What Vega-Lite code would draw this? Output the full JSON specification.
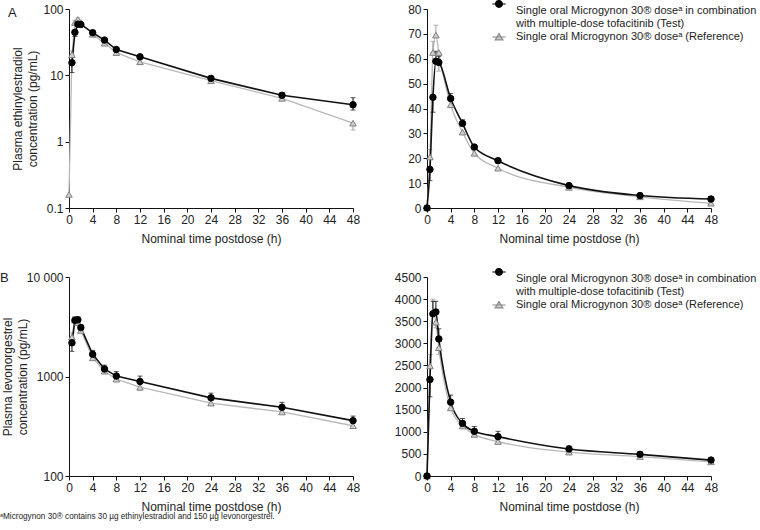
{
  "$schema": "https://vega.github.io/schema/vega-lite/v6.json",
  "background": "white",
  "padding": {"left": 0, "top": 3, "right": 0, "bottom": 0},
  "config": {
    "font": "Liberation Sans",
    "view": {"stroke": null},
    "axis": {"grid": false, "domainColor": "#111", "tickColor": "#111", "labelColor": "#222", "titleColor": "#222", "labelFontSize": 12, "titleFontSize": 12, "titleFontWeight": "normal", "tickSize": 4, "labelPadding": 2, "labelFlush": false, "labelOverlap": false, "domainWidth": 1, "tickWidth": 1, "titleLineHeight": 15},
    "legend": {"labelColor": "#222"}
  },
  "datasets": {
    "ee": [
      {"s": "Reference", "t": 0, "v": 0.16, "lo": null, "hi": null},
      {"s": "Reference", "t": 0.5, "v": 20.5, "lo": 20.5, "hi": 23.5},
      {"s": "Reference", "t": 1, "v": 62.5, "lo": 62.5, "hi": 67},
      {"s": "Reference", "t": 1.5, "v": 69.5, "lo": 69.5, "hi": 73.5},
      {"s": "Reference", "t": 2, "v": 62.5, "lo": 55, "hi": 62.5},
      {"s": "Reference", "t": 4, "v": 41.5, "lo": null, "hi": null},
      {"s": "Reference", "t": 6, "v": 30.5, "lo": null, "hi": null},
      {"s": "Reference", "t": 8, "v": 22, "lo": null, "hi": null},
      {"s": "Reference", "t": 12, "v": 16, "lo": null, "hi": null},
      {"s": "Reference", "t": 24, "v": 8.3, "lo": null, "hi": null},
      {"s": "Reference", "t": 36, "v": 4.5, "lo": null, "hi": null},
      {"s": "Reference", "t": 48, "v": 1.9, "lo": 1.5, "hi": 1.9},
      {"s": "Test", "t": 0, "v": 0, "lo": null, "hi": null},
      {"s": "Test", "t": 0.5, "v": 15.5, "lo": 11, "hi": 15.5},
      {"s": "Test", "t": 1, "v": 44.5, "lo": 38.5, "hi": 44.5},
      {"s": "Test", "t": 1.5, "v": 59, "lo": 59, "hi": 63},
      {"s": "Test", "t": 2, "v": 58.5, "lo": 58.5, "hi": 61},
      {"s": "Test", "t": 4, "v": 44, "lo": 44, "hi": 46},
      {"s": "Test", "t": 6, "v": 34, "lo": 34, "hi": 35.5},
      {"s": "Test", "t": 8, "v": 24.5, "lo": 24.5, "hi": 25.5},
      {"s": "Test", "t": 12, "v": 19, "lo": 19, "hi": 20},
      {"s": "Test", "t": 24, "v": 9, "lo": 9, "hi": 9.8},
      {"s": "Test", "t": 36, "v": 5, "lo": 5, "hi": 5.5},
      {"s": "Test", "t": 48, "v": 3.6, "lo": 3.0, "hi": 4.6}
    ],
    "lng": [
      {"s": "Reference", "t": 0, "v": 0, "lo": null, "hi": null},
      {"s": "Reference", "t": 0.5, "v": 2490, "lo": 2490, "hi": 2750},
      {"s": "Reference", "t": 1, "v": 3700, "lo": 3700, "hi": 4000},
      {"s": "Reference", "t": 1.5, "v": 3480, "lo": 3350, "hi": 3480},
      {"s": "Reference", "t": 2, "v": 2900, "lo": 2750, "hi": 2900},
      {"s": "Reference", "t": 4, "v": 1540, "lo": null, "hi": null},
      {"s": "Reference", "t": 6, "v": 1130, "lo": null, "hi": null},
      {"s": "Reference", "t": 8, "v": 940, "lo": null, "hi": null},
      {"s": "Reference", "t": 12, "v": 780, "lo": 730, "hi": 780},
      {"s": "Reference", "t": 24, "v": 540, "lo": null, "hi": null},
      {"s": "Reference", "t": 36, "v": 440, "lo": null, "hi": null},
      {"s": "Reference", "t": 48, "v": 320, "lo": null, "hi": null},
      {"s": "Test", "t": 0, "v": 0, "lo": null, "hi": null},
      {"s": "Test", "t": 0.5, "v": 2180, "lo": 1790, "hi": 2180},
      {"s": "Test", "t": 1, "v": 3670, "lo": 3670, "hi": 3950},
      {"s": "Test", "t": 1.5, "v": 3710, "lo": 3710, "hi": 3950},
      {"s": "Test", "t": 2, "v": 3100, "lo": 3100, "hi": 3330},
      {"s": "Test", "t": 4, "v": 1670, "lo": 1670, "hi": 1830},
      {"s": "Test", "t": 6, "v": 1190, "lo": 1190, "hi": 1300},
      {"s": "Test", "t": 8, "v": 1010, "lo": 1010, "hi": 1120},
      {"s": "Test", "t": 12, "v": 890, "lo": 890, "hi": 1010},
      {"s": "Test", "t": 24, "v": 610, "lo": 610, "hi": 680},
      {"s": "Test", "t": 36, "v": 490, "lo": 490, "hi": 550},
      {"s": "Test", "t": 48, "v": 360, "lo": 360, "hi": 400}
    ]
  },
  "title": {"text": "ᵃMicrogynon 30® contains 30 µg ethinylestradiol and 150 µg levonorgestrel.", "orient": "bottom", "anchor": "start", "fontSize": 8.2, "fontWeight": "normal", "color": "#222", "offset": 1},
  "resolve": {"scale": {"shape": "independent", "fill": "independent", "stroke": "independent"}, "legend": {"shape": "independent", "fill": "independent", "stroke": "independent"}},
  "spacing": 27,
  "vconcat": [
    {
      "spacing": 74,
      "bounds": "flush",
      "resolve": {"scale": {"shape": "independent", "fill": "independent", "stroke": "independent"}, "legend": {"shape": "independent", "fill": "independent", "stroke": "independent"}},
      "hconcat": [
        {
          "width": 284, "height": 199,
          "title": {"text": "A", "orient": "top", "anchor": "start", "frame": "group", "fontSize": 13, "fontWeight": "normal", "color": "#222", "offset": 0, "baseline": "top", "align": "left", "dx": -61, "dy": 17},
          "data": {"name": "ee"},
          "transform": [{"filter": "datum.v > 0"}],
          "encoding": {
            "x": {"field": "t", "type": "quantitative", "scale": {"domain": [0, 48], "nice": false}, "axis": {"values": [0, 4, 8, 12, 16, 20, 24, 28, 32, 36, 40, 44, 48], "tickCount": 13, "title": "Nominal time postdose (h)", "titlePadding": 8}}
          },
          "layer": [
            {"transform": [{"filter": "datum.s == 'Reference'"}], "mark": {"type": "line", "color": "#b8b8b8", "strokeWidth": 1.3},
             "encoding": {"y": {"field": "v", "type": "quantitative", "scale": {"type": "log", "domain": [0.1, 100]}, "axis": {"values": [0.1, 1, 10, 100], "tickCount": 4, "format": "~g", "title": ["Plasma ethinylestradiol", "concentration (pg/mL)"], "titlePadding": 3}}}},
            {"transform": [{"filter": "datum.s == 'Reference' && datum.hi != null"}], "mark": {"type": "rule", "color": "#999", "strokeWidth": 1}, "encoding": {"y": {"field": "lo", "type": "quantitative"}, "y2": {"field": "hi"}}},
            {"transform": [{"filter": "datum.s == 'Reference' && datum.hi != null"}], "mark": {"type": "tick", "orient": "horizontal", "color": "#999", "size": 5, "thickness": 1}, "encoding": {"y": {"field": "hi", "type": "quantitative"}}},
            {"transform": [{"filter": "datum.s == 'Reference' && datum.hi != null"}], "mark": {"type": "tick", "orient": "horizontal", "color": "#999", "size": 5, "thickness": 1}, "encoding": {"y": {"field": "lo", "type": "quantitative"}}},
            {"transform": [{"filter": "datum.s == 'Test'"}], "mark": {"type": "line", "color": "#111", "strokeWidth": 1.6}, "encoding": {"y": {"field": "v", "type": "quantitative"}}},
            {"transform": [{"filter": "datum.s == 'Test' && datum.hi != null"}], "mark": {"type": "rule", "color": "#111", "strokeWidth": 1}, "encoding": {"y": {"field": "lo", "type": "quantitative"}, "y2": {"field": "hi"}}},
            {"transform": [{"filter": "datum.s == 'Test' && datum.hi != null"}], "mark": {"type": "tick", "orient": "horizontal", "color": "#111", "size": 5, "thickness": 1}, "encoding": {"y": {"field": "hi", "type": "quantitative"}}},
            {"transform": [{"filter": "datum.s == 'Test' && datum.hi != null"}], "mark": {"type": "tick", "orient": "horizontal", "color": "#111", "size": 5, "thickness": 1}, "encoding": {"y": {"field": "lo", "type": "quantitative"}}},
            {"mark": {"type": "point", "filled": true, "opacity": 1, "strokeWidth": 1},
             "encoding": {
               "y": {"field": "v", "type": "quantitative"},
               "shape": {"field": "s", "type": "nominal", "scale": {"domain": ["Test", "Reference"], "range": ["circle", "triangle-up"]}, "legend": null},
               "fill": {"field": "s", "type": "nominal", "scale": {"domain": ["Test", "Reference"], "range": ["#000", "#cfcfcf"]}, "legend": null},
               "stroke": {"field": "s", "type": "nominal", "scale": {"domain": ["Test", "Reference"], "range": ["#000", "#808080"]}, "legend": null},
               "size": {"value": 42}
             }}
          ]
        },
        {
          "width": 284, "height": 199,
          "data": {"name": "ee"},
          "resolve": {"scale": {"shape": "independent", "fill": "independent", "stroke": "independent"}, "legend": {"shape": "independent", "fill": "independent", "stroke": "independent"}},
          "encoding": {
            "x": {"field": "t", "type": "quantitative", "scale": {"domain": [0, 48], "nice": false}, "axis": {"values": [0, 4, 8, 12, 16, 20, 24, 28, 32, 36, 40, 44, 48], "tickCount": 13, "title": "Nominal time postdose (h)", "titlePadding": 8}}
          },
          "layer": [
            {"transform": [{"filter": "datum.s == 'Reference'"}], "mark": {"type": "line", "color": "#b8b8b8", "strokeWidth": 1.3, "interpolate": "monotone"},
             "encoding": {"y": {"field": "v", "type": "quantitative", "scale": {"domain": [0, 80], "nice": false}, "axis": {"values": [0, 10, 20, 30, 40, 50, 60, 70, 80], "tickCount": 9, "labelOverlap": false, "title": null}}}},
            {"transform": [{"filter": "datum.s == 'Reference' && datum.hi != null"}], "mark": {"type": "rule", "color": "#999", "strokeWidth": 1}, "encoding": {"y": {"field": "lo", "type": "quantitative"}, "y2": {"field": "hi"}}},
            {"transform": [{"filter": "datum.s == 'Reference' && datum.hi != null"}], "mark": {"type": "tick", "orient": "horizontal", "color": "#999", "size": 5, "thickness": 1}, "encoding": {"y": {"field": "hi", "type": "quantitative"}}},
            {"transform": [{"filter": "datum.s == 'Reference' && datum.hi != null"}], "mark": {"type": "tick", "orient": "horizontal", "color": "#999", "size": 5, "thickness": 1}, "encoding": {"y": {"field": "lo", "type": "quantitative"}}},
            {"transform": [{"filter": "datum.s == 'Test'"}], "mark": {"type": "line", "color": "#111", "strokeWidth": 1.6, "interpolate": "monotone"}, "encoding": {"y": {"field": "v", "type": "quantitative"}}},
            {"transform": [{"filter": "datum.s == 'Test' && datum.hi != null"}], "mark": {"type": "rule", "color": "#111", "strokeWidth": 1}, "encoding": {"y": {"field": "lo", "type": "quantitative"}, "y2": {"field": "hi"}}},
            {"transform": [{"filter": "datum.s == 'Test' && datum.hi != null"}], "mark": {"type": "tick", "orient": "horizontal", "color": "#111", "size": 5, "thickness": 1}, "encoding": {"y": {"field": "hi", "type": "quantitative"}}},
            {"transform": [{"filter": "datum.s == 'Test' && datum.hi != null"}], "mark": {"type": "tick", "orient": "horizontal", "color": "#111", "size": 5, "thickness": 1}, "encoding": {"y": {"field": "lo", "type": "quantitative"}}},
            {"mark": {"type": "point", "filled": true, "opacity": 1, "strokeWidth": 1},
             "encoding": {
               "y": {"field": "v", "type": "quantitative"},
               "shape": {"field": "s", "type": "nominal", "scale": {"domain": ["Test", "Reference"], "range": ["circle", "triangle-up"]}, "legend": null},
               "fill": {"field": "s", "type": "nominal", "scale": {"domain": ["Test", "Reference"], "range": ["#000", "#cfcfcf"]}, "legend": null},
               "stroke": {"field": "s", "type": "nominal", "scale": {"domain": ["Test", "Reference"], "range": ["#000", "#808080"]}, "legend": null},
               "size": {"value": 42}
             }},
            {"transform": [{"filter": "false"}],
             "mark": {"type": "point", "filled": true, "opacity": 1, "strokeWidth": 1.2},
             "encoding": {
               "y": {"field": "v", "type": "quantitative"},
               "shape": {"field": "s", "type": "nominal", "scale": {"domain": ["Test", "Reference"], "range": ["M-0.95,-1L0.95,-1M-0.48,-1A0.48,0.48 0 1 1 0.48,-1A0.48,0.48 0 1 1 -0.48,-1Z", "M-0.95,0L0.95,0M0,-0.48L0.55,0.42L-0.55,0.42Z"]},
                 "legend": {"orient": "none", "legendX": 64, "legendY": -6, "title": null, "symbolSize": 196, "symbolStrokeWidth": 1.2, "labelFontSize": 11, "labelLimit": 400, "rowPadding": -4, "labelOffset": 9, "labelBaseline": "middle",
                   "labelExpr": "datum.value === 'Test' ? ['Single oral Microgynon 30® doseᵃ in combination', 'with multiple-dose tofacitinib (Test)'] : 'Single oral Microgynon 30® doseᵃ (Reference)'"}},
               "fill": {"field": "s", "type": "nominal", "scale": {"domain": ["Test", "Reference"], "range": ["#000", "#cfcfcf"]}},
               "stroke": {"field": "s", "type": "nominal", "scale": {"domain": ["Test", "Reference"], "range": ["#000", "#8a8a8a"]}}
             }}
          ]
        }
      ]
    },
    {
      "spacing": 74,
      "bounds": "flush",
      "resolve": {"scale": {"shape": "independent", "fill": "independent", "stroke": "independent"}, "legend": {"shape": "independent", "fill": "independent", "stroke": "independent"}},
      "hconcat": [
        {
          "width": 284, "height": 199,
          "title": {"text": "B", "orient": "top", "anchor": "start", "frame": "group", "fontSize": 13, "fontWeight": "normal", "color": "#222", "offset": 0, "baseline": "top", "align": "left", "dx": -69, "dy": 14},
          "data": {"name": "lng"},
          "transform": [{"filter": "datum.v > 0"}],
          "encoding": {
            "x": {"field": "t", "type": "quantitative", "scale": {"domain": [0, 48], "nice": false}, "axis": {"values": [0, 4, 8, 12, 16, 20, 24, 28, 32, 36, 40, 44, 48], "tickCount": 13, "title": "Nominal time postdose (h)", "titlePadding": 8}}
          },
          "layer": [
            {"transform": [{"filter": "datum.s == 'Reference'"}], "mark": {"type": "line", "color": "#b8b8b8", "strokeWidth": 1.3},
             "encoding": {"y": {"field": "v", "type": "quantitative", "scale": {"type": "log", "domain": [100, 10000]}, "axis": {"values": [100, 1000, 10000], "tickCount": 3, "labelExpr": "datum.value >= 10000 ? '10 000' : format(datum.value, 'd')", "title": ["Plasma levonorgestrel", "concentration (pg/mL)"], "titlePadding": -3}}}},
            {"transform": [{"filter": "datum.s == 'Reference' && datum.hi != null"}], "mark": {"type": "rule", "color": "#999", "strokeWidth": 1}, "encoding": {"y": {"field": "lo", "type": "quantitative"}, "y2": {"field": "hi"}}},
            {"transform": [{"filter": "datum.s == 'Reference' && datum.hi != null"}], "mark": {"type": "tick", "orient": "horizontal", "color": "#999", "size": 5, "thickness": 1}, "encoding": {"y": {"field": "hi", "type": "quantitative"}}},
            {"transform": [{"filter": "datum.s == 'Reference' && datum.hi != null"}], "mark": {"type": "tick", "orient": "horizontal", "color": "#999", "size": 5, "thickness": 1}, "encoding": {"y": {"field": "lo", "type": "quantitative"}}},
            {"transform": [{"filter": "datum.s == 'Test'"}], "mark": {"type": "line", "color": "#111", "strokeWidth": 1.6}, "encoding": {"y": {"field": "v", "type": "quantitative"}}},
            {"transform": [{"filter": "datum.s == 'Test' && datum.hi != null"}], "mark": {"type": "rule", "color": "#111", "strokeWidth": 1}, "encoding": {"y": {"field": "lo", "type": "quantitative"}, "y2": {"field": "hi"}}},
            {"transform": [{"filter": "datum.s == 'Test' && datum.hi != null"}], "mark": {"type": "tick", "orient": "horizontal", "color": "#111", "size": 5, "thickness": 1}, "encoding": {"y": {"field": "hi", "type": "quantitative"}}},
            {"transform": [{"filter": "datum.s == 'Test' && datum.hi != null"}], "mark": {"type": "tick", "orient": "horizontal", "color": "#111", "size": 5, "thickness": 1}, "encoding": {"y": {"field": "lo", "type": "quantitative"}}},
            {"mark": {"type": "point", "filled": true, "opacity": 1, "strokeWidth": 1},
             "encoding": {
               "y": {"field": "v", "type": "quantitative"},
               "shape": {"field": "s", "type": "nominal", "scale": {"domain": ["Test", "Reference"], "range": ["circle", "triangle-up"]}, "legend": null},
               "fill": {"field": "s", "type": "nominal", "scale": {"domain": ["Test", "Reference"], "range": ["#000", "#cfcfcf"]}, "legend": null},
               "stroke": {"field": "s", "type": "nominal", "scale": {"domain": ["Test", "Reference"], "range": ["#000", "#808080"]}, "legend": null},
               "size": {"value": 42}
             }}
          ]
        },
        {
          "width": 284, "height": 199,
          "data": {"name": "lng"},
          "resolve": {"scale": {"shape": "independent", "fill": "independent", "stroke": "independent"}, "legend": {"shape": "independent", "fill": "independent", "stroke": "independent"}},
          "encoding": {
            "x": {"field": "t", "type": "quantitative", "scale": {"domain": [0, 48], "nice": false}, "axis": {"values": [0, 4, 8, 12, 16, 20, 24, 28, 32, 36, 40, 44, 48], "tickCount": 13, "title": "Nominal time postdose (h)", "titlePadding": 8}}
          },
          "layer": [
            {"transform": [{"filter": "datum.s == 'Reference'"}], "mark": {"type": "line", "color": "#b8b8b8", "strokeWidth": 1.3, "interpolate": "monotone"},
             "encoding": {"y": {"field": "v", "type": "quantitative", "scale": {"domain": [0, 4500], "nice": false}, "axis": {"values": [0, 500, 1000, 1500, 2000, 2500, 3000, 3500, 4000, 4500], "tickCount": 10, "format": "d", "labelOverlap": false, "title": null}}}},
            {"transform": [{"filter": "datum.s == 'Reference' && datum.hi != null"}], "mark": {"type": "rule", "color": "#999", "strokeWidth": 1}, "encoding": {"y": {"field": "lo", "type": "quantitative"}, "y2": {"field": "hi"}}},
            {"transform": [{"filter": "datum.s == 'Reference' && datum.hi != null"}], "mark": {"type": "tick", "orient": "horizontal", "color": "#999", "size": 5, "thickness": 1}, "encoding": {"y": {"field": "hi", "type": "quantitative"}}},
            {"transform": [{"filter": "datum.s == 'Reference' && datum.hi != null"}], "mark": {"type": "tick", "orient": "horizontal", "color": "#999", "size": 5, "thickness": 1}, "encoding": {"y": {"field": "lo", "type": "quantitative"}}},
            {"transform": [{"filter": "datum.s == 'Test'"}], "mark": {"type": "line", "color": "#111", "strokeWidth": 1.6, "interpolate": "monotone"}, "encoding": {"y": {"field": "v", "type": "quantitative"}}},
            {"transform": [{"filter": "datum.s == 'Test' && datum.hi != null"}], "mark": {"type": "rule", "color": "#111", "strokeWidth": 1}, "encoding": {"y": {"field": "lo", "type": "quantitative"}, "y2": {"field": "hi"}}},
            {"transform": [{"filter": "datum.s == 'Test' && datum.hi != null"}], "mark": {"type": "tick", "orient": "horizontal", "color": "#111", "size": 5, "thickness": 1}, "encoding": {"y": {"field": "hi", "type": "quantitative"}}},
            {"transform": [{"filter": "datum.s == 'Test' && datum.hi != null"}], "mark": {"type": "tick", "orient": "horizontal", "color": "#111", "size": 5, "thickness": 1}, "encoding": {"y": {"field": "lo", "type": "quantitative"}}},
            {"mark": {"type": "point", "filled": true, "opacity": 1, "strokeWidth": 1},
             "encoding": {
               "y": {"field": "v", "type": "quantitative"},
               "shape": {"field": "s", "type": "nominal", "scale": {"domain": ["Test", "Reference"], "range": ["circle", "triangle-up"]}, "legend": null},
               "fill": {"field": "s", "type": "nominal", "scale": {"domain": ["Test", "Reference"], "range": ["#000", "#cfcfcf"]}, "legend": null},
               "stroke": {"field": "s", "type": "nominal", "scale": {"domain": ["Test", "Reference"], "range": ["#000", "#808080"]}, "legend": null},
               "size": {"value": 42}
             }},
            {"transform": [{"filter": "false"}],
             "mark": {"type": "point", "filled": true, "opacity": 1, "strokeWidth": 1.2},
             "encoding": {
               "y": {"field": "v", "type": "quantitative"},
               "shape": {"field": "s", "type": "nominal", "scale": {"domain": ["Test", "Reference"], "range": ["M-0.95,-1L0.95,-1M-0.48,-1A0.48,0.48 0 1 1 0.48,-1A0.48,0.48 0 1 1 -0.48,-1Z", "M-0.95,0L0.95,0M0,-0.48L0.55,0.42L-0.55,0.42Z"]},
                 "legend": {"orient": "none", "legendX": 64, "legendY": -6, "title": null, "symbolSize": 196, "symbolStrokeWidth": 1.2, "labelFontSize": 11, "labelLimit": 400, "rowPadding": -4, "labelOffset": 9, "labelBaseline": "middle",
                   "labelExpr": "datum.value === 'Test' ? ['Single oral Microgynon 30® doseᵃ in combination', 'with multiple-dose tofacitinib (Test)'] : 'Single oral Microgynon 30® doseᵃ (Reference)'"}},
               "fill": {"field": "s", "type": "nominal", "scale": {"domain": ["Test", "Reference"], "range": ["#000", "#cfcfcf"]}},
               "stroke": {"field": "s", "type": "nominal", "scale": {"domain": ["Test", "Reference"], "range": ["#000", "#8a8a8a"]}}
             }}
          ]
        }
      ]
    }
  ]
}
